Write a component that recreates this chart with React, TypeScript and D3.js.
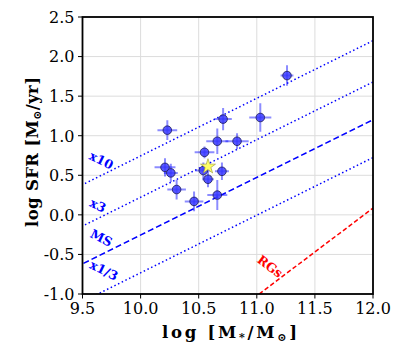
import React from 'react';
import * as d3 from 'd3';

// galaxies: stellar mass, SFR and their errors (dex)
const logMass = [11.26, 10.23, 10.71, 11.03, 10.66, 10.83, 10.55, 10.21, 10.26, 10.54, 10.70, 10.58, 10.31, 10.46, 10.66];
const logSfr = [1.76, 1.07, 1.21, 1.23, 0.93, 0.93, 0.79, 0.60, 0.53, 0.56, 0.55, 0.45, 0.32, 0.17, 0.25];
const massErr = [0.055, 0.085, 0.075, 0.095, 0.095, 0.10, 0.085, 0.09, 0.06, 0.07, 0.06, 0.05, 0.08, 0.08, 0.086];
const sfrErr = [0.13, 0.125, 0.14, 0.18, 0.16, 0.10, 0.075, 0.115, 0.115, 0.10, 0.11, 0.10, 0.125, 0.125, 0.19];

// the yellow star
const starMass = [10.58];
const starSfr = [0.61];

// main sequence and offsets
const msSlope = 0.728;
const msIntercept = -7.535;
const msOffsets = [1, Math.log10(3), 0, -Math.log10(3)];
const msNames = ['x10', 'x3', 'MS', 'x1/3'];
const msLabelX = [9.663, 9.633, 9.663, 9.685];
const msLabelY = [0.69, 0.12, -0.29, -0.70];

// radio galaxies line
const rgsMass = [11.02, 12.0];
const rgsSfr = [-1.0, 0.085];
const rgsLabel = [11.115, -0.65];

const xTicks = [9.5, 10.0, 10.5, 11.0, 11.5, 12.0];
const yTicks = [-1.0, -0.5, 0.0, 0.5, 1.0, 1.5, 2.0, 2.5];

const W = 415;
const H = 346;
const m = { left: 82.5, right: 42, top: 17, bottom: 52 };
const serif = '"DejaVu Serif", serif';

export default function App() {
  const x = d3.scaleLinear().domain([9.5, 12.0]).range([m.left, W - m.right]);
  const y = d3.scaleLinear().domain([-1.0, 2.5]).range([H - m.bottom, m.top]);
  const line = d3.line<[number, number]>().x(d => x(d[0])).y(d => y(d[1]));

  const msPts = (off: number): [number, number][] =>
    [9.3, 12.2].map(v => [v, msSlope * v + msIntercept + off] as [number, number]);
  const msAngle = (Math.atan2(-(y(msSlope) - y(0)), x(10.5) - x(9.5)) * 180) / Math.PI;
  const rgsSlope = (rgsSfr[1] - rgsSfr[0]) / (rgsMass[1] - rgsMass[0]);
  const rgsAngle = (Math.atan2(-(y(rgsSlope) - y(0)), x(10.5) - x(9.5)) * 180) / Math.PI;

  const star = d3.symbol(d3.symbolStar, 70)();

  return (
    <svg width={W} height={H} style={{ position: 'absolute', left: 0, top: 0, background: '#fff' }}>
      <defs>
        <clipPath id="plot">
          <rect x={m.left} y={m.top} width={W - m.left - m.right} height={H - m.top - m.bottom} />
        </clipPath>
      </defs>

      {/* grid */}
      {xTicks.map(t => (
        <line key={'gx' + t} x1={x(t)} x2={x(t)} y1={m.top} y2={H - m.bottom} stroke="#dcdcdc" strokeWidth={1} />
      ))}
      {yTicks.map(t => (
        <line key={'gy' + t} x1={m.left} x2={W - m.right} y1={y(t)} y2={y(t)} stroke="#dcdcdc" strokeWidth={1} />
      ))}

      <g clipPath="url(#plot)">
        {msOffsets.map((off, i) => (
          <path
            key={'ms' + i}
            d={line(msPts(off)) || ''}
            fill="none"
            stroke="#0000ff"
            strokeWidth={1.5}
            strokeDasharray={msNames[i] === 'MS' ? '6,3' : '1.5,2.6'}
          />
        ))}
        <path
          d={line(rgsMass.map((v, i) => [v, rgsSfr[i]] as [number, number])) || ''}
          fill="none"
          stroke="#ff0000"
          strokeWidth={1.5}
          strokeDasharray="4.5,2.5"
        />

        {/* error bars */}
        {logMass.map((v, i) => (
          <g key={'e' + i} stroke="#0000ff" strokeOpacity={0.45} strokeWidth={2}>
            <line x1={x(v - massErr[i])} x2={x(v + massErr[i])} y1={y(logSfr[i])} y2={y(logSfr[i])} />
            <line x1={x(v)} x2={x(v)} y1={y(logSfr[i] - sfrErr[i])} y2={y(logSfr[i] + sfrErr[i])} />
          </g>
        ))}
        {logMass.map((v, i) => (
          <circle key={'p' + i} cx={x(v)} cy={y(logSfr[i])} r={4.3} fill="#3a3aff" fillOpacity={0.85} stroke="#1c1c55" strokeWidth={0.8} />
        ))}
        {starMass.map((v, i) => (
          <path
            key={'s' + i}
            d={star || ''}
            transform={`translate(${x(v)},${y(starSfr[i])})`}
            fill="#ffff66"
            stroke="#999933"
            strokeWidth={0.6}
          />
        ))}
      </g>

      {/* line labels */}
      {msNames.map((name, i) => (
        <text
          key={'lab' + i}
          transform={`translate(${x(msLabelX[i])},${y(msLabelY[i])}) rotate(${msAngle})`}
          textAnchor="middle"
          dominantBaseline="central"
          fontFamily={serif}
          fontWeight="bold"
          fontSize={12.5}
          fill="#0000ff"
        >
          {name}
        </text>
      ))}
      <text
        transform={`translate(${x(rgsLabel[0])},${y(rgsLabel[1])}) rotate(${rgsAngle})`}
        textAnchor="middle"
        dominantBaseline="central"
        fontFamily={serif}
        fontWeight="bold"
        fontSize={12.5}
        fill="#ff0000"
      >
        RGs
      </text>

      {/* frame */}
      <rect x={m.left} y={m.top} width={W - m.left - m.right} height={H - m.top - m.bottom} fill="none" stroke="#000" strokeWidth={1.8} />

      {/* ticks */}
      {xTicks.map(t => (
        <g key={'tx' + t}>
          <line x1={x(t)} x2={x(t)} y1={H - m.bottom} y2={H - m.bottom + 4.5} stroke="#000" strokeWidth={1} />
          <text x={x(t)} y={H - m.bottom + 20} textAnchor="middle" fontFamily={serif} fontSize={16} fill="#000">
            {t.toFixed(1)}
          </text>
        </g>
      ))}
      {yTicks.map(t => (
        <g key={'ty' + t}>
          <line x1={m.left - 4.5} x2={m.left} y1={y(t)} y2={y(t)} stroke="#000" strokeWidth={1} />
          <text x={m.left - 8} y={y(t) + 5.8} textAnchor="end" fontFamily={serif} fontSize={16} fill="#000">
            {t.toFixed(1)}
          </text>
        </g>
      ))}

      {/* axis labels */}
      <text
        x={229.5}
        y={338}
        textAnchor="middle"
        fontFamily={serif}
        fontWeight="bold"
        fontSize={16.5}
        fill="#000"
        textLength={135}
        lengthAdjust="spacing"
      >
        log [M<tspan fontSize={11} dy={3}>*</tspan>
        <tspan dy={-3}>/M</tspan>
        <tspan fontSize={11} dy={3}>⊙</tspan>
        <tspan dy={-3}>]</tspan>
      </text>
      <text
        transform={`translate(38,152) rotate(-90)`}
        textAnchor="middle"
        fontFamily={serif}
        fontWeight="bold"
        fontSize={16.5}
        fill="#000"
        textLength={150}
        lengthAdjust="spacing"
      >
        log SFR [M<tspan fontSize={11} dy={3}>⊙</tspan>
        <tspan dy={-3}>/yr]</tspan>
      </text>
    </svg>
  );
}
